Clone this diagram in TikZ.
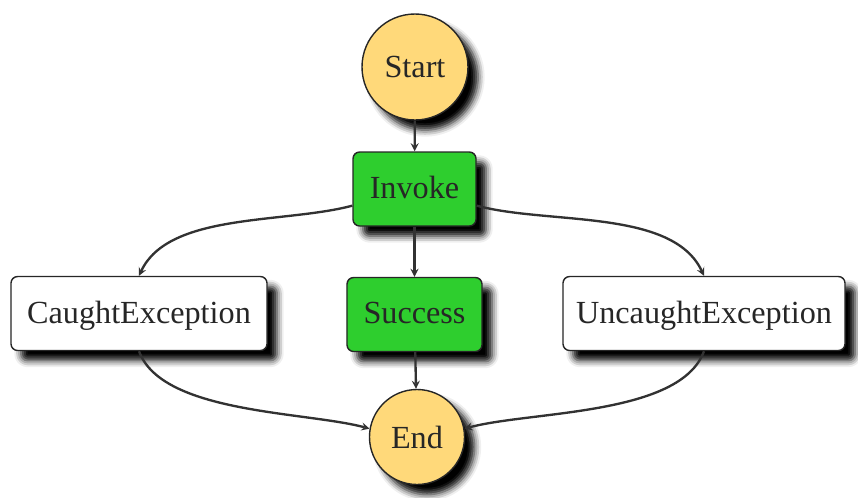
\documentclass[tikz,border=0pt]{standalone}
\usepackage{fontspec}
\setmainfont{Liberation Serif}
\usetikzlibrary{shadows.blur}

\definecolor{startyellow}{RGB}{255,217,122}
\definecolor{taskgreen}{RGB}{46,206,46}
\definecolor{edgegray}{RGB}{50,50,50}

\tikzset{
  shade/.style={blur shadow={shadow xshift=0.3cm, shadow yshift=-0.3cm,
      shadow blur radius=0.2cm, shadow opacity=100}},
  statebox/.style={draw=black!85, line width=1.2pt, rounded corners=0.2cm,
      minimum height=2.22cm, inner sep=0pt, text=black!85, text depth=0.1cm,
      font=\fontsize{27.5}{32}\selectfont, shade},
  terminal/.style={circle, draw=black!85, line width=1.2pt, fill=startyellow,
      inner sep=0pt, text=black!85, font=\fontsize{27.5}{32}\selectfont, shade},
  flow/.style={->, draw=edgegray, line width=2pt}
}

\begin{document}
\begin{tikzpicture}[>=stealth, x=0.03cm, y=-0.03cm]
\useasboundingbox (0,0) rectangle (858,497);

% Stati
\node[terminal, minimum size=3.18cm] (start) at (415,67) {Start};
\node[statebox, fill=taskgreen, minimum width=3.69cm] (invoke) at (414.5,189) {Invoke};
\node[statebox, fill=white, minimum width=7.68cm] (caught) at (139,313.5) {CaughtException};
\node[statebox, fill=taskgreen, minimum width=4.05cm] (success) at (414.5,314.5) {Success};
\node[statebox, fill=white, minimum width=8.46cm] (uncaught) at (704,313.5) {UncaughtException};
\node[terminal, minimum size=2.85cm] (stop) at (417,437) {End};

% Transizioni
\draw[flow] (start) -- (invoke);
\draw[flow] (invoke.195) to[out=195, in=65, looseness=0.8] (caught.north);
\draw[flow] (invoke) -- (success);
\draw[flow] (invoke.-15) to[out=-15, in=115, looseness=0.8] (uncaught.north);
\draw[flow] (caught.south) to[out=-70, in=165, looseness=0.7] (stop.170);
\draw[flow] (success) -- (stop);
\draw[flow] (uncaught.south) to[out=-110, in=15, looseness=0.7] (stop.10);

\end{tikzpicture}
\end{document}
